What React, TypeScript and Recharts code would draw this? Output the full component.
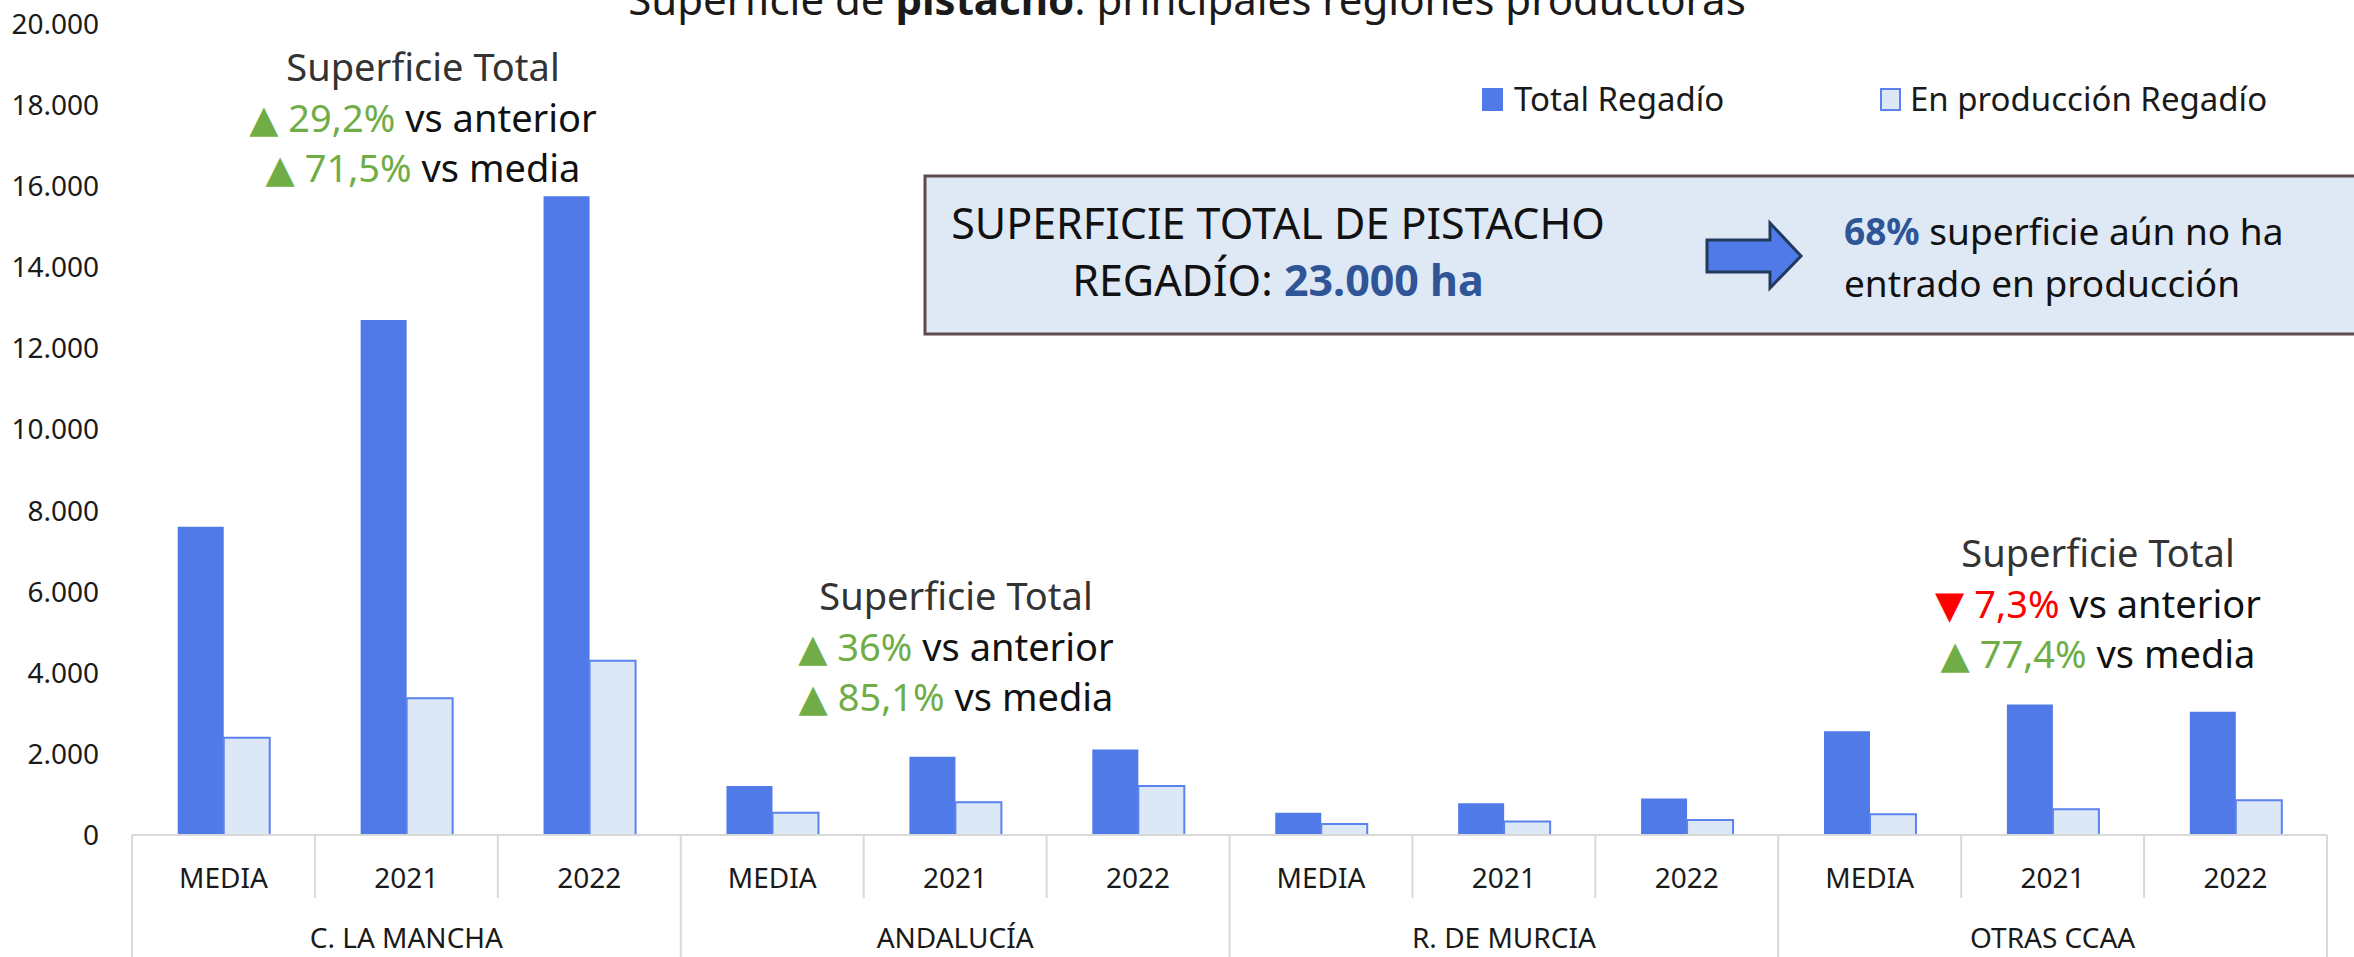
import { BarChart, Bar, XAxis, YAxis, Legend } from "recharts";

const FONT = "'Noto Sans', 'DejaVu Sans', sans-serif";

const categories = [
  "MEDIA", "2021", "2022",
  "MEDIA", "2021", "2022",
  "MEDIA", "2021", "2022",
  "MEDIA", "2021", "2022",
];
const regions = ["C. LA MANCHA", "ANDALUCÍA", "R. DE MURCIA", "OTRAS CCAA"];

// hectáreas
const totalRegadio = [7600, 12700, 15750, 1210, 1930, 2110, 550, 780, 900, 2560, 3220, 3040];
const enProduccionRegadio = [2400, 3370, 4300, 550, 807, 1210, 270, 330, 370, 510, 635, 857];

const yTicks = [0, 2000, 4000, 6000, 8000, 10000, 12000, 14000, 16000, 18000, 20000];

const data = categories.map((label, i) => ({
  key: `${regions[Math.floor(i / 3)]}-${label}`,
  label,
  region: regions[Math.floor(i / 3)],
  total: totalRegadio[i],
  produccion: enProduccionRegadio[i],
}));

// anotaciones: centro x, baseline de la primera línea, cambio vs anterior / vs media
const annotations = [
  { x: 423, y: 81, anterior: "29,2%", media: "71,5%", up: true },
  { x: 956, y: 610, anterior: "36%", media: "85,1%", up: true },
  { x: 2098, y: 567, anterior: "7,3%", media: "77,4%", up: false },
];

const BLUE = "#507ae8";
const LIGHT = "#dde8f6";
const LIGHT_STROKE = "#5b82ee";
const GREEN = "#70ad47";
const RED = "#ff0000";
const GRID = "#d9d9d9";

const fmt = (v: number) => String(v).replace(/\B(?=(\d{3})+(?!\d))/g, ".");

function CategoryTick(props: any) {
  const { x, y, payload, index } = props;
  const half = payload?.offset || 91.5;
  const row = data[index];
  const groupStart = index % 3 === 0;
  const last = index === data.length - 1;
  return (
    <g>
      <line x1={x - half} x2={x - half} y1={y} y2={y + (groupStart ? 130 : 63)} stroke={GRID} strokeWidth={2} />
      {last && <line x1={x + half} x2={x + half} y1={y} y2={y + 130} stroke={GRID} strokeWidth={2} />}
      <text x={x} y={y + 53} textAnchor="middle" fontFamily={FONT} fontSize={28} fill="#1a1a1a">
        {row?.label}
      </text>
      {index % 3 === 1 && (
        <text x={x} y={y + 113} textAnchor="middle" fontFamily={FONT} fontSize={28} fill="#1a1a1a">
          {row?.region}
        </text>
      )}
    </g>
  );
}

function LegendContent() {
  return (
    <svg width={800} height={50} style={{ overflow: "visible", display: "block" }}>
      <rect x={2} y={10} width={21} height={23} fill={BLUE} />
      <text x={34} y={33} fontFamily={FONT} fontSize={33} fill="#1a1a1a">Total Regadío</text>
      <rect x={401} y={11} width={19} height={21} fill={LIGHT} stroke={LIGHT_STROKE} strokeWidth={2} />
      <text x={430} y={33} fontFamily={FONT} fontSize={33} fill="#1a1a1a">En producción Regadío</text>
    </svg>
  );
}

function Overlay() {
  return (
    <svg
      width={2354}
      height={957}
      style={{ position: "absolute", left: 0, top: 0, pointerEvents: "none" }}
      fontFamily={FONT}
    >
      <text x={1187} y={15} textAnchor="middle" fontSize={42} fill="#1a1a1a">
        Superficie de <tspan fontWeight="bold">pistacho</tspan>: principales regiones productoras
      </text>

      <rect x={925} y={176} width={1500} height={158} fill="#dee9f5" stroke="#5f4b4b" strokeWidth={3} />
      <text x={1278} y={239} textAnchor="middle" fontSize={43} fill="#111">
        SUPERFICIE TOTAL DE PISTACHO
      </text>
      <text x={1278} y={296} textAnchor="middle" fontSize={43} fill="#111">
        REGADÍO: <tspan fontWeight="bold" fill="#2f5597">23.000 ha</tspan>
      </text>
      <polygon
        points="1707,240 1770,240 1770,223 1801,256 1770,288 1770,272 1707,272"
        fill={BLUE}
        stroke="#203a5c"
        strokeWidth={3}
      />
      <text x={1844} y={245} fontSize={37} fill="#111">
        <tspan fontWeight="bold" fill="#2f5597">68%</tspan> superficie aún no ha
      </text>
      <text x={1844} y={297} fontSize={37} fill="#111">
        entrado en producción
      </text>

      {annotations.map((a, i) => (
        <g key={i}>
          <text x={a.x} y={a.y} textAnchor="middle" fontSize={38} fill="#333">
            Superficie Total
          </text>
          <text x={a.x} y={a.y + 51} textAnchor="middle" fontSize={38} fill="#111">
            <tspan fill={a.up ? GREEN : RED}>{a.up ? "▲" : "▼"} {a.anterior}</tspan> vs anterior
          </text>
          <text x={a.x} y={a.y + 101} textAnchor="middle" fontSize={38} fill="#111">
            <tspan fill={GREEN}>▲ {a.media}</tspan> vs media
          </text>
        </g>
      ))}
    </svg>
  );
}

export default function App() {
  return (
    <div style={{ position: "absolute", left: 0, top: 0, width: 2354, height: 957, background: "#fff" }}>
      <BarChart
        width={2354}
        height={957}
        data={data}
        margin={{ top: 24, right: 27, bottom: 0, left: 0 }}
        barCategoryGap="25%"
        barGap={0}
      >
        <YAxis
          width={132}
          domain={[0, 20000]}
          ticks={yTicks}
          tickFormatter={fmt}
          axisLine={false}
          tickLine={false}
          tickSize={0}
          tickMargin={33}
          interval={0}
          tick={{ fontFamily: FONT, fontSize: 28, fill: "#1a1a1a" }}
        />
        <XAxis
          dataKey="key"
          height={122}
          interval={0}
          tickLine={false}
          tickSize={0}
          tickMargin={0}
          axisLine={{ stroke: GRID, strokeWidth: 2 }}
          tick={<CategoryTick />}
        />
        <Legend
          layout="horizontal"
          verticalAlign="middle"
          align="center"
          content={<LegendContent />}
          wrapperStyle={{ position: "absolute", top: 78, left: 1480, width: 800, height: 50 }}
        />
        <Bar dataKey="total" name="Total Regadío" fill={BLUE} isAnimationActive={false} />
        <Bar
          dataKey="produccion"
          name="En producción Regadío"
          fill={LIGHT}
          stroke={LIGHT_STROKE}
          strokeWidth={2}
          isAnimationActive={false}
        />
      </BarChart>
      <Overlay />
    </div>
  );
}
